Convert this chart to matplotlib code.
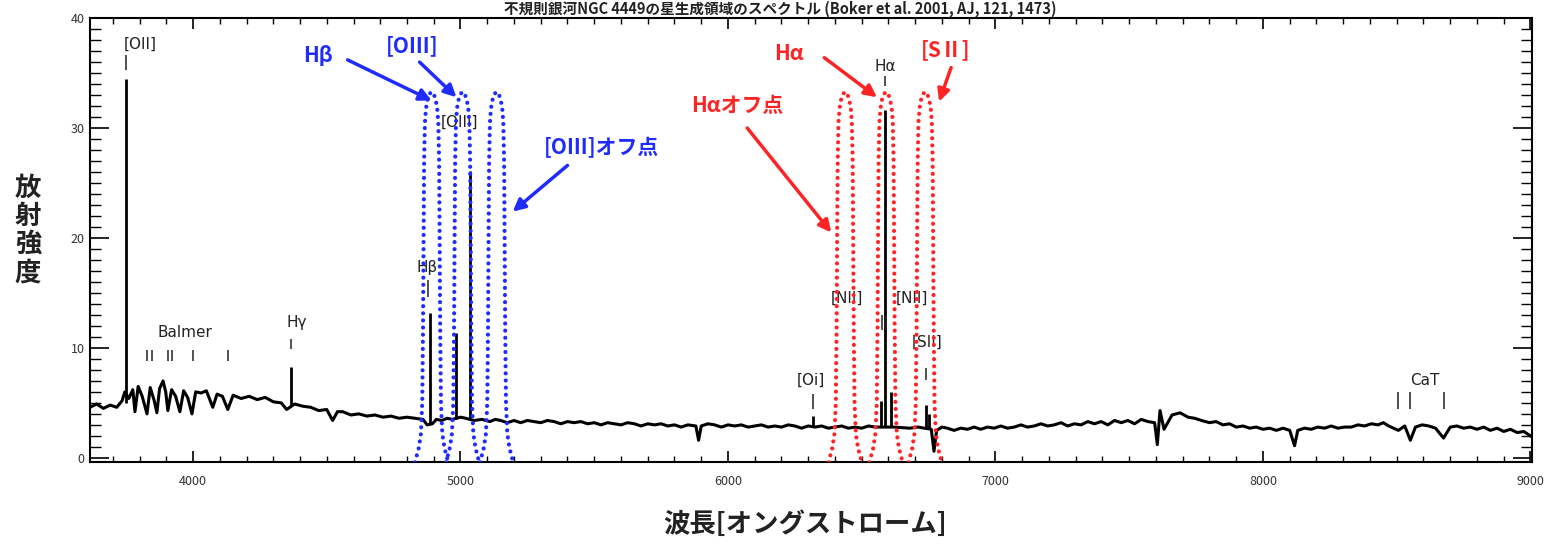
import matplotlib

matplotlib.use("Agg")

import matplotlib.pyplot as plt  # noqa: E402
import numpy as np  # noqa: E402
from matplotlib.ticker import MultipleLocator  # noqa: E402

plt.rcParams["font.family"] = ["Noto Sans CJK JP", "DejaVu Sans"]

BLUE = "#1f2bff"
RED = "#ff2424"

# continuum of the scanned spectrum (wavelength in Å, flux)
cont_wave = [
    3615, 3640, 3665, 3690, 3715, 3735, 3745, 3760, 3775, 3783, 3795, 3810,
    3828, 3840, 3855, 3865, 3875, 3888, 3898, 3906, 3920, 3935, 3951, 3965,
    3980, 3996, 4010, 4030, 4050, 4074, 4090, 4110, 4130, 4150, 4180, 4210,
    4240, 4270, 4300, 4330, 4350, 4380, 4410, 4440, 4470, 4500, 4522, 4540,
    4560, 4590, 4620, 4650, 4680, 4710, 4740, 4770, 4800, 4830, 4860, 4875,
    4895, 4910, 4930, 4950, 4970, 5000, 5020, 5050, 5080, 5110, 5130, 5150,
    5175, 5200, 5225, 5250, 5275, 5300, 5325, 5350, 5375, 5400, 5425, 5450,
    5475, 5500, 5525, 5550, 5575, 5600, 5625, 5650, 5675, 5700, 5725, 5750,
    5775, 5800, 5825, 5850, 5880, 5890, 5900, 5925, 5950, 5975, 6000, 6025,
    6050, 6075, 6100, 6125, 6150, 6175, 6200, 6225, 6250, 6275, 6300, 6325,
    6350, 6375, 6400, 6425, 6450, 6475, 6500, 6525, 6550, 6620, 6680, 6710,
    6760, 6770, 6780, 6800, 6820, 6845, 6870, 6895, 6920, 6945, 6970, 6995,
    7020, 7045, 7070, 7095, 7120, 7145, 7170, 7195, 7220, 7245, 7270, 7295,
    7320, 7345, 7370, 7395, 7420, 7445, 7470, 7495, 7520, 7545, 7570, 7595,
    7605, 7615, 7630, 7660, 7690, 7720, 7745, 7770, 7800, 7825, 7850, 7875,
    7900, 7925, 7950, 7975, 8000, 8025, 8050, 8075, 8100, 8118, 8130, 8155,
    8180, 8205, 8230, 8255, 8280, 8305, 8330, 8355, 8380, 8405, 8430, 8450,
    8470, 8506, 8530, 8551, 8570, 8595, 8620, 8645, 8675, 8700, 8725, 8750,
    8775, 8800, 8825, 8850, 8875, 8900, 8925, 8950, 8975, 9000,
]
cont_flux = [
    4.6, 4.9, 4.5, 4.8, 4.6, 5.2, 6.0, 5.4, 6.2, 4.2, 6.5, 5.6,
    4.0, 6.4, 5.2, 4.1, 6.3, 7.0, 6.0, 4.3, 6.2, 5.6, 4.2, 6.1,
    5.5, 4.0, 6.0, 5.9, 6.1, 4.6, 5.8, 5.6, 4.4, 5.7, 5.4, 5.6,
    5.3, 5.5, 5.1, 5.0, 4.4, 4.9, 4.7, 4.6, 4.3, 4.4, 3.4, 4.2,
    4.2, 3.9, 4.0, 3.8, 3.9, 3.7, 3.8, 3.6, 3.7, 3.6, 3.5, 3.0,
    3.1, 3.5, 3.4, 3.6, 3.5, 3.7, 3.6, 3.4, 3.5, 3.3, 3.5, 3.4,
    3.2, 3.4, 3.2, 3.4, 3.3, 3.2, 3.4, 3.3, 3.1, 3.3, 3.2, 3.3,
    3.1, 3.2, 3.0, 3.2, 3.1, 3.0, 3.2, 3.1, 2.9, 3.1, 3.0, 3.1,
    2.9, 3.0, 2.8, 3.0, 2.9, 1.6, 2.9, 3.1, 3.0, 2.8, 3.0, 2.9,
    3.0, 2.8, 2.9, 3.0, 2.8, 2.9, 2.8, 3.0, 2.9, 2.7, 2.9, 2.8,
    2.9, 2.7, 2.8, 2.9, 2.7, 2.8, 2.7, 2.9, 2.8, 2.8, 2.7, 2.8,
    2.6, 0.6, 2.5, 2.8, 2.7, 2.5, 2.7, 2.6, 2.8, 2.6, 2.8, 2.7,
    2.9, 2.7, 2.8, 3.0, 2.8, 2.9, 3.1, 2.9, 3.0, 3.2, 2.9, 3.1,
    3.0, 3.3, 3.1, 3.3, 3.0, 3.4, 3.2, 3.4, 3.1, 3.5, 3.3, 3.2,
    1.2, 4.3, 2.6, 3.9, 4.1, 3.7, 3.6, 3.4, 3.2, 3.3, 3.0, 3.1,
    2.8, 2.9, 2.7, 2.8, 2.6, 2.7, 2.5, 2.7, 2.5, 1.1, 2.5, 2.7,
    2.6, 2.8, 2.7, 2.9, 2.7, 2.8, 2.8, 3.0, 2.9, 3.1, 3.0, 3.2,
    2.9, 2.5, 2.9, 1.6, 2.8, 3.0, 2.9, 2.7, 1.8, 2.8, 2.9, 2.7,
    2.8, 2.6, 2.8, 2.5, 2.7, 2.4, 2.6, 2.3, 2.4, 2.0,
]

# emission lines: wavelength, continuum at the foot, peak
line_wave = [3750, 4366, 4885, 4985, 5034, 6318, 6572, 6587, 6610, 6740, 6752]
line_base = [5.0, 4.8, 3.1, 3.5, 3.6, 2.8, 2.8, 2.8, 2.8, 2.7, 2.7]
line_peak = [34.5, 8.3, 13.2, 11.4, 26.1, 3.8, 5.2, 31.6, 6.0, 4.8, 4.0]

# narrow-band filter profile (offset from centre in Å, height on the flux scale)
filt_offset = [-62, -48, -40, -35, -32, -30, -28, -25, -21, -15, -8, 0,
               8, 15, 21, 25, 28, 30, 32, 35, 40, 48, 62]
filt_height = [-0.4, 0.9, 2.2, 5.0, 12, 20, 27, 30.5, 31.8, 32.6, 33.1, 33.3,
               33.1, 32.6, 31.8, 30.5, 27, 20, 12, 5.0, 2.2, 0.9, -0.4]
blue_centers = [4892, 5008, 5135]
red_centers = [6438, 6591, 6737]

# black line identifications from the original figure
id_text = ["[OII]", "[OIII]", "Hβ", "Hγ", "Balmer", "[Oi]", "[NII]", "[NII]",
           "Hα", "[SII]", "CaT"]
id_wave = [3802, 4997, 4877, 4388, 3970, 6311, 6445, 6688, 6587, 6744, 8604]
id_flux = [37.6, 30.5, 17.3, 12.3, 11.4, 7.1, 14.5, 14.5, 35.6, 10.5, 7.0]

tick_wave = [3750, 6587, 4880, 4366, 3828, 3846, 3906, 3921, 3999, 4130,
             6318, 6740, 6576, 6590, 8506, 8551, 8675]
tick_lo = [35.3, 33.8, 14.6, 9.9, 8.8, 8.8, 8.8, 8.8, 8.8, 8.8,
           4.4, 7.1, 11.6, 11.6, 4.4, 4.4, 4.4]
tick_hi = [36.6, 34.7, 16.2, 10.8, 9.8, 9.8, 9.8, 9.8, 9.8, 9.8,
           5.8, 8.2, 13.0, 13.0, 6.0, 6.0, 6.0]

# coloured call-outs: text, text position, arrow tail, arrow head, colour
note_text = ["Hβ", "[OⅢ]", "[OⅢ]オフ点", "Hα", "[SⅡ]", "Hαオフ点"]
note_pos = [(4466, 36.6), (4821, 37.5), (5527, 28.2), (6229, 36.8), (6815, 37.1), (6035, 32.1)]
note_tail = [(4578, 36.2), (4847, 36.0), (5400, 26.6), (6360, 36.4), (6834, 35.5), (6072, 30.0)]
note_head = [(4892, 32.5), (4985, 32.8), (5195, 22.4), (6557, 32.8), (6789, 32.4), (6386, 20.5)]
note_color = [BLUE, BLUE, BLUE, RED, RED, RED]

fig = plt.figure(figsize=(15.52, 5.49), dpi=100)
ax = fig.add_axes([0.058, 0.158, 0.929, 0.809])

ax.plot(cont_wave, cont_flux, color="black", lw=2.2, zorder=2)
ax.vlines(line_wave, line_base, line_peak, color="black", lw=2.0, zorder=2)
ax.vlines(tick_wave, tick_lo, tick_hi, color="#222222", lw=1.1, zorder=2)

for t, w, f in zip(id_text, id_wave, id_flux):
    ax.text(w, f, t, fontsize=11, color="#222222", ha="center", va="center",
            family="DejaVu Sans")

offs = np.array(filt_offset)
for centers, col in ((blue_centers, BLUE), (red_centers, RED)):
    for c in centers:
        ax.plot(c + offs, filt_height, color=col, lw=3.0,
                linestyle=(0, (0.01, 1.7)), dash_capstyle="round", zorder=3)

for t, p, tail, head, col in zip(note_text, note_pos, note_tail, note_head, note_color):
    ax.text(p[0], p[1], t, fontsize=15, fontweight="bold", color=col,
            ha="center", va="center")
    ax.annotate("", xy=head, xytext=tail,
                arrowprops=dict(arrowstyle="-|>", color=col, lw=2.5,
                                mutation_scale=18, shrinkA=0, shrinkB=0))

ax.set_xlim(3615, 9005)
ax.set_ylim(-0.4, 40)
ax.xaxis.set_major_locator(MultipleLocator(1000))
ax.xaxis.set_minor_locator(MultipleLocator(100))
ax.yaxis.set_major_locator(MultipleLocator(10))
ax.yaxis.set_minor_locator(MultipleLocator(1))
ax.tick_params(which="both", direction="in", top=True, right=True,
               labelsize=9, labelcolor="#333333")
ax.tick_params(axis="x", which="major", length=8, width=1.2, pad=9)
ax.tick_params(axis="x", which="minor", length=4.5, width=1)
ax.tick_params(axis="y", which="major", length=14, width=1.2, pad=4)
ax.tick_params(axis="y", which="minor", length=8, width=1)
for s in ax.spines.values():
    s.set_linewidth(1.5)

fig.text(0.018, 0.58, "放\n射\n強\n度", fontsize=19, fontweight="bold",
         color="#222222", ha="center", va="center", linespacing=1.05)
fig.text(0.519, 0.044, "波長[オングストローム]", fontsize=19, fontweight="bold",
         color="#222222", ha="center", va="center")
# the scan crops the title at the top edge; keep it whole but in the thin strip
fig.text(0.503, 1 - 14 / 549,
         "不規則銀河NGC 4449の星生成領域のスペクトル (Boker et al. 2001, AJ, 121, 1473)",
         fontsize=10.5, fontweight="bold", color="#222222", ha="center", va="baseline")

fig.savefig("out.png", dpi=100, facecolor="white")
